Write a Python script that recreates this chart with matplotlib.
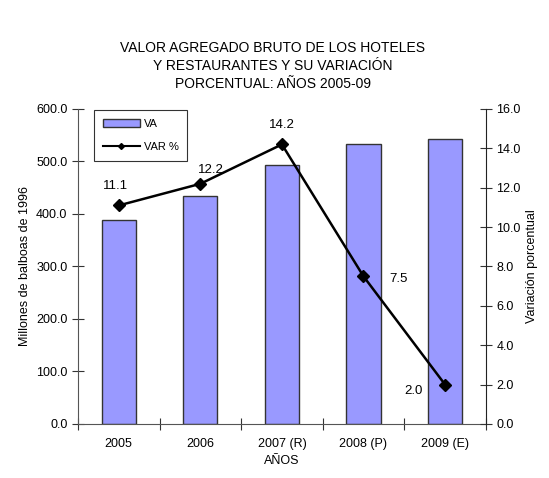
import numpy as np
import matplotlib
matplotlib.use("Agg")
import matplotlib.pyplot as plt
from matplotlib.ticker import FixedLocator, NullFormatter

plt.rcParams['font.family'] = ['Liberation Sans', 'DejaVu Sans']

years = ["2005", "2006", "2007 (R)", "2008 (P)", "2009 (E)"]
va = [387.8, 434.3, 493.7, 532.4, 541.9]
var_pct = [11.1, 12.2, 14.2, 7.5, 2.0]
# label offsets in pixels (dx, dy) for the VAR % data labels
label_off = [(-3, 19), (11, 14), (0, 19), (35, -3), (-32, -6)]

fig = plt.figure(figsize=(5.49, 4.78), dpi=100)
ax = fig.add_axes([0.142, 0.113, 0.743, 0.659])
x = np.arange(len(years))

bars = ax.bar(x, va, width=0.42, color="#9999ff", edgecolor="#333333",
              linewidth=1.0, label="VA")
ax.set_xlim(-0.5, len(years) - 0.5)
ax.set_ylim(0, 600)
ax.set_yticks(np.arange(0, 601, 100))
ax.set_yticklabels([f"{v:.1f}" for v in np.arange(0, 601, 100)], fontsize=9)
ax.set_ylabel("Millones de balboas de 1996", fontsize=9)
ax.set_xlabel("AÑOS", fontsize=9)

ax.xaxis.set_major_locator(FixedLocator(np.arange(-0.5, len(years), 1)))
ax.xaxis.set_major_formatter(NullFormatter())
ax.xaxis.set_minor_locator(FixedLocator(x))
ax.set_xticklabels(years, minor=True, fontsize=9)
ax.tick_params(axis="x", which="minor", length=0, pad=10)
ax.tick_params(axis="x", which="major", direction="inout", length=8, color="#333333")
ax.tick_params(axis="y", direction="inout", length=8, color="#333333")
for s in ["top", "right"]:
    ax.spines[s].set_visible(False)
ax.spines["left"].set_color("#555555")
ax.spines["bottom"].set_color("#555555")

ax2 = ax.twinx()
line, = ax2.plot(x, var_pct, color="black", linewidth=1.8, marker="D",
                 markersize=6, label="VAR %")
ax2.set_ylim(0, 16)
ax2.set_yticks(np.arange(0, 16.1, 2))
ax2.set_yticklabels([f"{v:.1f}" for v in np.arange(0, 16.1, 2)], fontsize=9)
ax2.set_ylabel("Variación porcentual", fontsize=9)
ax2.tick_params(axis="y", direction="inout", length=8, color="#333333")
for s in ["top", "left", "bottom"]:
    ax2.spines[s].set_visible(False)
ax2.spines["right"].set_color("#222222")

for xi, v, (dx, dy) in zip(x, var_pct, label_off):
    ax2.annotate(f"{v:.1f}", (xi, v), xytext=(dx, dy), textcoords="offset pixels",
                 ha="center", va="center", fontsize=9.5)

leg_line = plt.Line2D([], [], color="black", linewidth=1.5, marker="D", markersize=3)
leg = ax2.legend([bars, leg_line], ["VA", "VAR %"], loc="upper left",
                 bbox_to_anchor=(0.033, 1.005), fontsize=8, frameon=True,
                 fancybox=False, edgecolor="black", handlelength=3.4,
                 handletextpad=0.3, borderpad=0.8, labelspacing=1.2,
                 borderaxespad=0.2)
leg.get_frame().set_linewidth(0.8)

fig.text(0.497, 0.862, "VALOR AGREGADO BRUTO DE LOS HOTELES\nY RESTAURANTES Y SU VARIACIÓN\nPORCENTUAL: AÑOS 2005-09",
         ha="center", va="center", fontsize=10, linespacing=1.35)

fig.savefig("out.png", dpi=100)
